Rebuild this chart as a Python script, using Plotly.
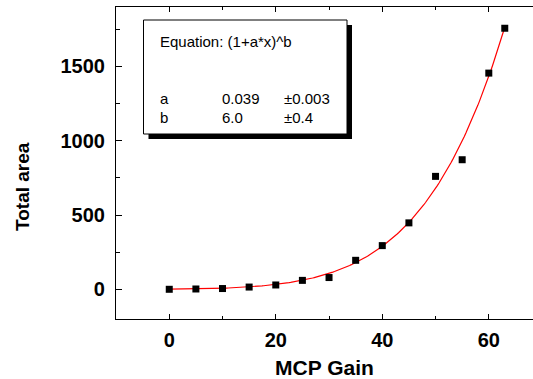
import numpy as np
import plotly.graph_objects as go

# Data
mcp_gain = [0, 5, 10, 15, 20, 25, 30, 35, 40, 45, 50, 55, 60, 63]
total_area = [0, 2, 5, 15, 29, 60, 79, 195, 294, 447, 760, 872, 1455, 1757]

# Fit parameters (model curve)
fit_a = 0.0393
fit_b = 6.0
fit_x_min, fit_x_max = 0, 63

# Label texts
eq_text = "Equation: (1+a*x)^b"
param_names = ["a", "b"]
param_values = ["0.039", "6.0"]
param_errors = ["±0.003", "±0.4"]

xs = np.linspace(fit_x_min, fit_x_max, 200)
ys = (1 + fit_a * xs) ** fit_b

FONT = "Liberation Sans, Arial, sans-serif"

fig = go.Figure()
fig.add_trace(go.Scatter(x=xs, y=ys, mode="lines",
                         line=dict(color="#ff0000", width=1.2), hoverinfo="skip"))
fig.add_trace(go.Scatter(x=mcp_gain, y=total_area, mode="markers",
                         marker=dict(symbol="square", size=7, color="black",
                                     line=dict(width=0))))

W, H = 533, 379
L, R, T, B = 116, 0, 7, 60
pw, ph = W - L - R, H - T - B

def px(x):
    return (x - L) / pw

def py(y):
    return 1 - (y - T) / ph

shapes = [
    # shadow
    dict(type="rect", xref="paper", yref="paper",
         x0=px(148.5), x1=px(352), y0=py(139), y1=py(25),
         fillcolor="black", line=dict(width=0)),
    # box
    dict(type="rect", xref="paper", yref="paper",
         x0=px(143.5), x1=px(347), y0=py(134), y1=py(20),
         fillcolor="white", line=dict(color="black", width=1)),
]

annotations = [dict(xref="paper", yref="paper", x=px(158), y=py(41), text=eq_text,
                    showarrow=False, xanchor="left", yanchor="middle",
                    font=dict(family=FONT, size=15, color="black"))]
rows_y = [98, 117]
for i in range(2):
    for xpix, txt in zip([158, 220, 281.5], [param_names[i], param_values[i], param_errors[i]]):
        annotations.append(dict(xref="paper", yref="paper", x=px(xpix), y=py(rows_y[i]),
                                text=txt, showarrow=False, xanchor="left", yanchor="middle",
                                font=dict(family=FONT, size=15, color="black")))
# y-axis title (placed off-centre as in the reference)
annotations.append(dict(xref="paper", yref="paper", x=px(23), y=py(187), text="<b>Total area</b>",
                        textangle=-90, showarrow=False, xanchor="center", yanchor="middle",
                        font=dict(family=FONT, size=19, color="black")))

fig.update_layout(
    width=W, height=H,
    margin=dict(l=L, r=R, t=T, b=B, pad=0),
    paper_bgcolor="white", plot_bgcolor="white",
    showlegend=False,
    shapes=shapes, annotations=annotations,
    font=dict(family=FONT, color="black"),
    xaxis=dict(range=[-10, 68.3], tick0=0, dtick=20, ticks="inside", ticklen=5,
               tickwidth=1, tickcolor="black",
               minor=dict(dtick=10, ticks="inside", ticklen=3, tickcolor="black"),
               showline=True, linecolor="black", linewidth=1.2, mirror="ticks",
               showgrid=False, zeroline=False, ticklabelstandoff=3,
               tickfont=dict(family=FONT, size=20, color="black", weight="bold"),
               title=dict(text="MCP Gain", standoff=14,
                          font=dict(family=FONT, size=21, color="black", weight="bold"))),
    yaxis=dict(range=[-200, 1900], tick0=0, dtick=500, ticks="inside", ticklen=6,
               tickwidth=1, tickcolor="black",
               minor=dict(dtick=250, ticks="inside", ticklen=4, tickcolor="black"),
               showline=True, linecolor="black", linewidth=1.2,
               showgrid=False, zeroline=False, ticklabelstandoff=6,
               tickfont=dict(family=FONT, size=20, color="black", weight="bold")),
)

fig.write_html("out.html")
